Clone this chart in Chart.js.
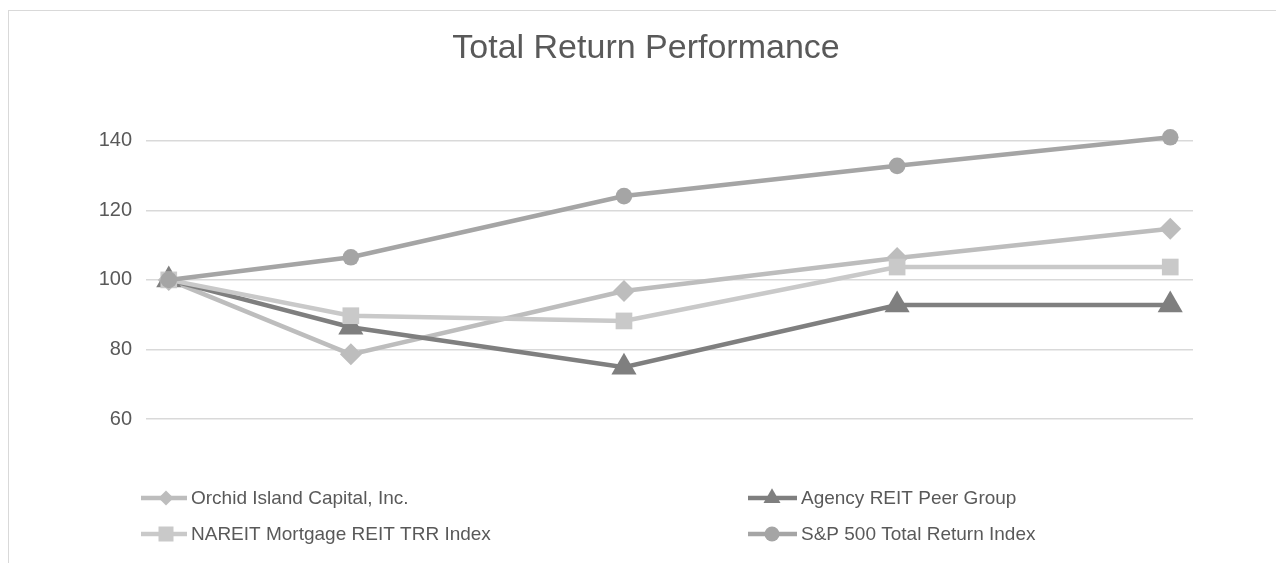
<!DOCTYPE html>
<html lang="en">
<head>
  <meta charset="UTF-8">
  <title>Total Return Performance</title>
  <script src="https://cdn.jsdelivr.net/npm/chart.js"></script>
  <style>
    html, body { margin: 0; padding: 0; background: #fff; overflow: hidden; }
    /* thin grey frame around the chart, runs off the right/bottom edge */
    .frame {
      position: absolute; left: 8px; top: 10px;
      width: 1400px; height: 700px;
      border: 1.5px solid #d9d9d9;
    }
    #chart { position: absolute; left: 0; top: 0; }
  </style>
</head>
<body>
  <div class="frame"></div>
  <canvas id="chart" width="1276" height="563"></canvas>

  <script>
    // months since the start of the measurement period (uneven spacing)
    const periodMonths = [0, 8, 20, 32, 44];

    const orchid = [100, 78.6, 96.8, 106.3, 114.7];
    const agency = [100, 86.4, 74.9, 92.8, 92.8];
    const nareit = [100, 89.7, 88.2, 103.7, 103.7];
    const sp500  = [100, 106.5, 124.1, 132.8, 141.0];

    const yTicks = [60, 80, 100, 120, 140];

    const FONT = '"Liberation Sans", Arial, sans-serif';
    const TEXT = '#595959';

    const toPoints = vals => vals.map((v, i) => ({ x: periodMonths[i], y: v }));

    function series(label, vals, color, style, radius, order) {
      return {
        label: label,
        data: toPoints(vals),
        borderColor: color,
        backgroundColor: color,
        borderWidth: 4.5,
        pointStyle: style,
        pointRadius: radius,
        pointBorderWidth: 0,
        pointBackgroundColor: color,
        tension: 0,
        clip: false,
        order: order
      };
    }

    const datasets = [
      series('Orchid Island Capital, Inc.', orchid, '#bdbdbd', 'rectRot', 11, 3),
      series('Agency REIT Peer Group', agency, '#7f7f7f', 'triangle', 14.5, 2),
      series('NAREIT Mortgage REIT TRR Index', nareit, '#c9c9c9', 'rect', 11.8, 1),
      series('S&P 500 Total Return Index', sp500, '#a5a5a5', 'circle', 8.3, 0)
    ];

    // legend: two fixed columns under the plot, same order as the datasets
    const legendSlots = [
      { x: 141, y: 498, len: 46, mark: 25, r: 7.5 },
      { x: 748, y: 498, len: 49, mark: 24, r: 9.8 },
      { x: 141, y: 534, len: 46, mark: 25, r: 10.6 },
      { x: 748, y: 534, len: 49, mark: 24, r: 7.5 }
    ];

    const columnLegend = {
      id: 'columnLegend',
      afterDraw(chart) {
        const ctx = chart.ctx;
        chart.data.datasets.forEach((ds, i) => {
          const s = legendSlots[i];
          ctx.save();
          ctx.strokeStyle = ds.borderColor;
          ctx.lineWidth = 4.5;
          ctx.beginPath();
          ctx.moveTo(s.x, s.y);
          ctx.lineTo(s.x + s.len, s.y);
          ctx.stroke();
          ctx.fillStyle = ds.borderColor;
          Chart.helpers.drawPoint(ctx, {
            pointStyle: ds.pointStyle, radius: s.r, rotation: 0, borderWidth: 0
          }, s.x + s.mark, s.y);
          ctx.fillStyle = TEXT;
          ctx.font = '19px ' + FONT;
          ctx.textBaseline = 'middle';
          ctx.textAlign = 'left';
          ctx.fillText(ds.label, s.x + s.len + 4, s.y + 1);
          ctx.restore();
        });
      }
    };

    new Chart(document.getElementById('chart'), {
      type: 'line',
      data: { datasets: datasets },
      options: {
        responsive: false,
        animation: false,
        events: [],
        // left padding shifts the centred title to where the original has it
        layout: { padding: { top: 0, right: 83, bottom: 144, left: 99 } },
        scales: {
          x: {
            type: 'linear',
            min: -1,
            max: 45,
            display: false
          },
          y: {
            min: 60,
            max: 140,
            afterBuildTicks: s => { s.ticks = yTicks.map(v => ({ value: v })); },
            afterFit: s => { s.width = 47; },
            border: { display: false },
            grid: { color: '#d9d9d9', lineWidth: 1.5, drawTicks: false },
            ticks: { color: TEXT, font: { family: FONT, size: 20 }, padding: 14 }
          }
        },
        plugins: {
          legend: { display: false },
          tooltip: { enabled: false },
          title: {
            display: true,
            text: 'Total Return Performance',
            color: TEXT,
            font: { family: FONT, size: 34, weight: 'normal' },
            padding: { top: 28, bottom: 72 }
          }
        }
      },
      plugins: [columnLegend]
    });
  </script>
</body>
</html>
